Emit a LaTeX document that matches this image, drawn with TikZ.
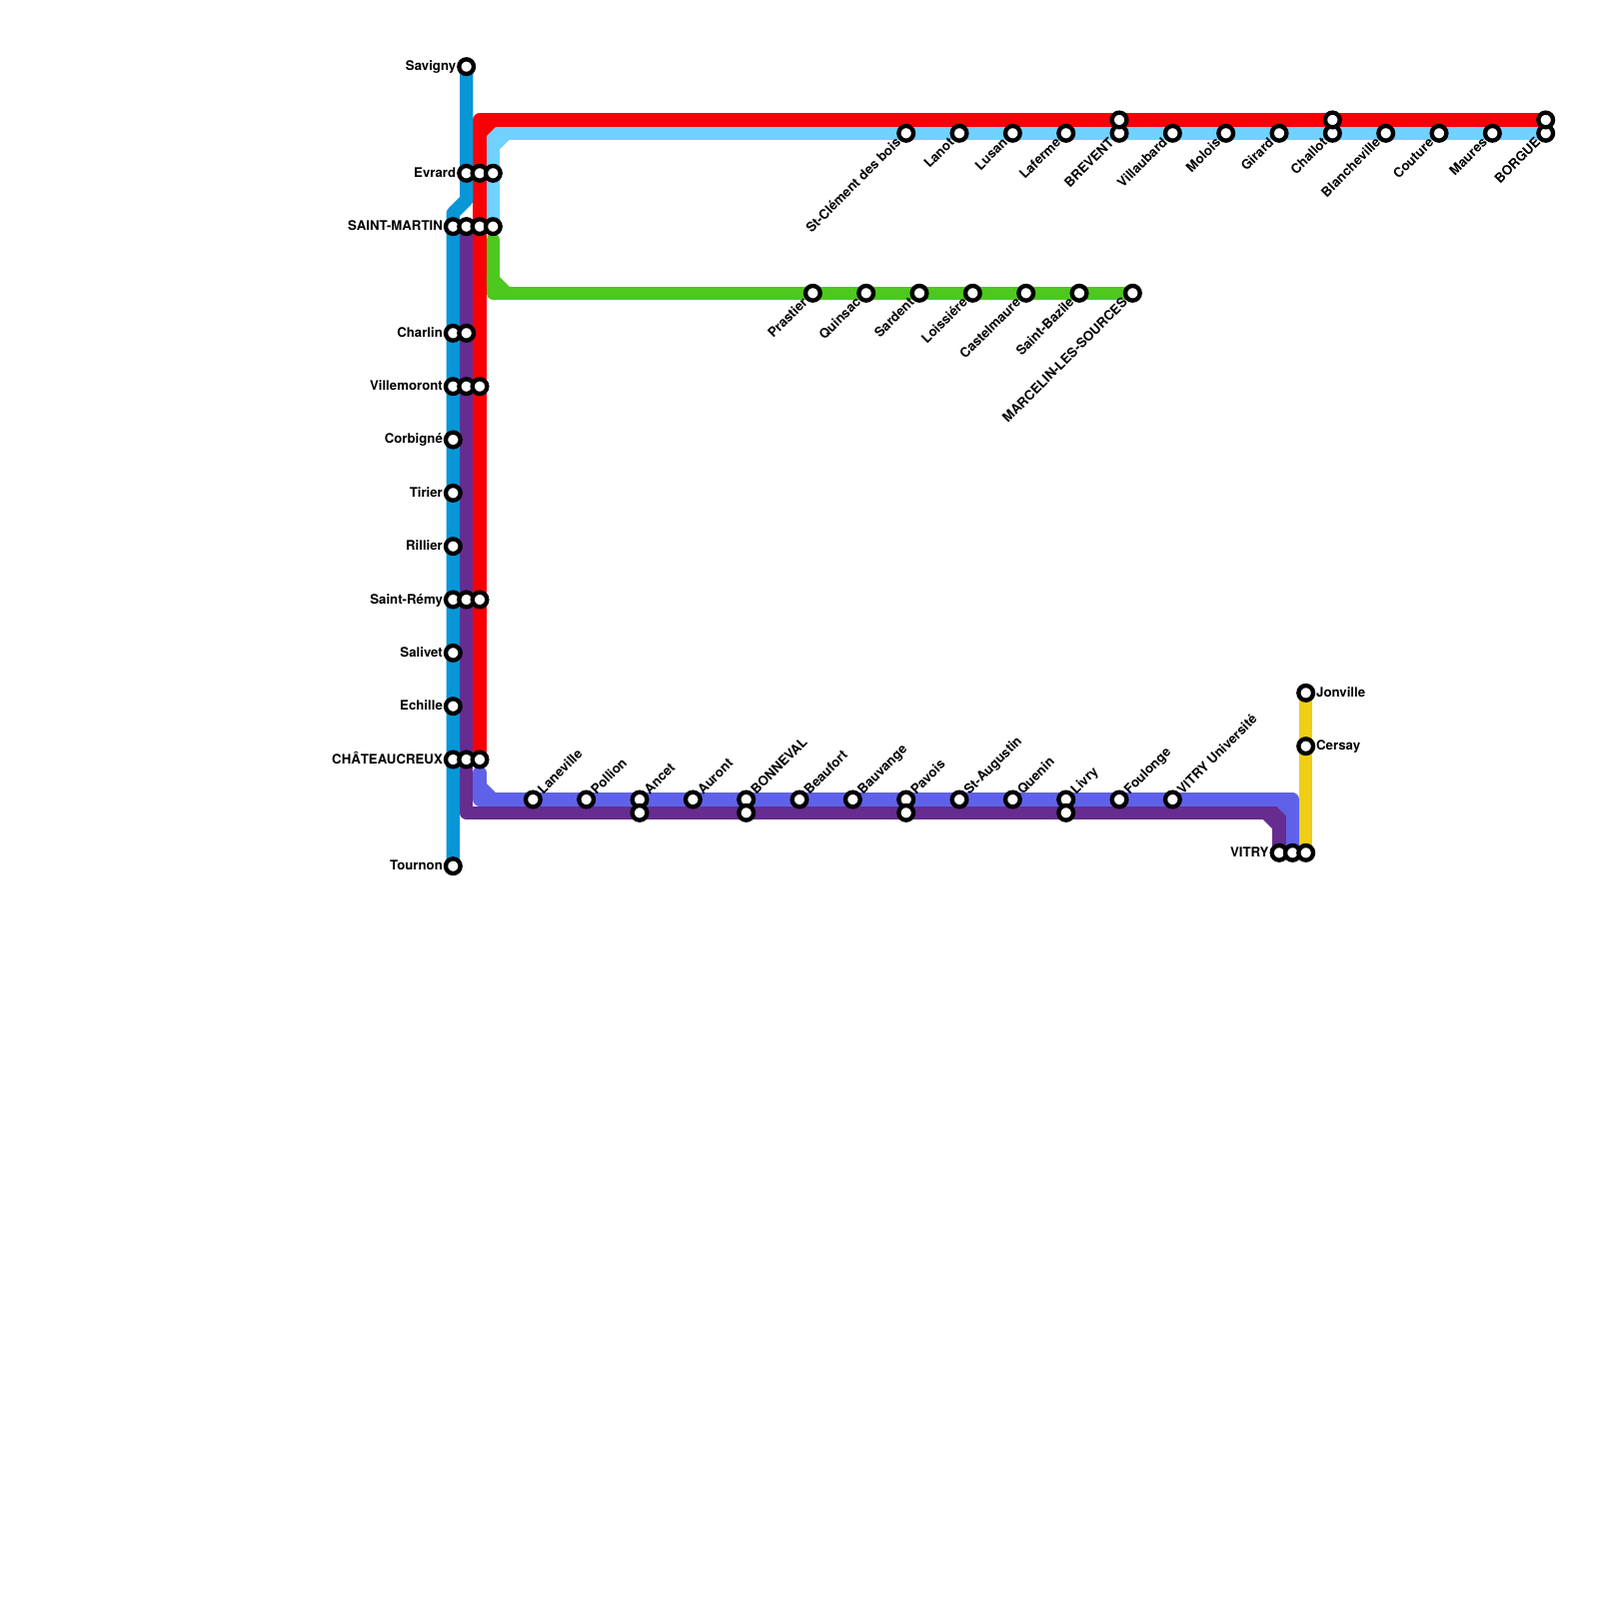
\documentclass[tikz,border=0pt]{standalone}
\usepackage{fontspec}
\setmainfont{TeX Gyre Heros}
\usepackage{xcolor}
\usetikzlibrary{backgrounds}
\definecolor{lblue}{HTML}{0896D7}
\definecolor{lpurple}{HTML}{662C90}
\definecolor{lred}{HTML}{F70006}
\definecolor{lcyan}{HTML}{71D1FF}
\definecolor{lgreen}{HTML}{4DC81E}
\definecolor{lslate}{HTML}{5F62E8}
\definecolor{lyellow}{HTML}{F0CE15}

\begin{document}
\begin{tikzpicture}[
  x=2mm, y=-2mm,
  font=\fontsize{5.65}{6.8}\selectfont\bfseries,
  st/.style={draw=black, fill=white, circle, line width=0.65mm, minimum size=2.2mm, inner sep=0pt},
  rel/.style={line width=2mm, line cap=round, line join=round},
  lw/.style={inner sep=0pt, anchor=base east, xshift=-1.5mm, yshift=-0.6mm},
  le/.style={inner sep=0pt, anchor=base west, xshift=1.5mm, yshift=-0.6mm},
  lsw/.style={inner sep=0pt, anchor=base east, rotate=45, xshift=-1.5mm, yshift=-0.6mm},
  lne/.style={inner sep=0pt, anchor=base west, rotate=45, xshift=1.5mm, yshift=-0.6mm}
]
\useasboundingbox (0,0) rectangle (120,120);

\node[st] (savigny) at (35,5) {};
\node[st] (evrard) at (35,13) {};
\node[st] (evrardb) at (36,13) {};
\node[st] (evrardc) at (37,13) {};
\node[st] (martin) at (34,17) {};
\node[st] (martinb) at (35,17) {};
\node[st] (martinc) at (36,17) {};
\node[st] (martind) at (37,17) {};
\node[st] (charlin) at (34,25) {};
\node[st] (charlinb) at (35,25) {};
\node[st] (villemoront) at (34,29) {};
\node[st] (villemorontb) at (35,29) {};
\node[st] (villemorontc) at (36,29) {};
\node[st] (corbigne) at (34,33) {};
\node[st] (tirier) at (34,37) {};
\node[st] (rillier) at (34,41) {};
\node[st] (remy) at (34,45) {};
\node[st] (remyb) at (35,45) {};
\node[st] (remyc) at (36,45) {};
\node[st] (salivet) at (34,49) {};
\node[st] (echille) at (34,53) {};
\node[st] (chateau) at (34,57) {};
\node[st] (chateaub) at (35,57) {};
\node[st] (chateauc) at (36,57) {};
\node[st] (tournon) at (34,65) {};

\node[st] (clement) at (68,10) {};
\node[st] (lanot) at (72,10) {};
\node[st] (lusan) at (76,10) {};
\node[st] (laferme) at (80,10) {};
\node[st] (brevent) at (84,10) {};
\node[st] (breventb) at (84,9) {};
\node[st] (villaubard) at (88,10) {};
\node[st] (molois) at (92,10) {};
\node[st] (girard) at (96,10) {};
\node[st] (challot) at (100,10) {};
\node[st] (challotb) at (100,9) {};
\node[st] (blanche) at (104,10) {};
\node[st] (couture) at (108,10) {};
\node[st] (maures) at (112,10) {};
\node[st] (borgue) at (116,10) {};
\node[st] (borgueb) at (116,9) {};

\node[st] (prastier) at (61,22) {};
\node[st] (quinsac) at (65,22) {};
\node[st] (sardent) at (69,22) {};
\node[st] (loissiere) at (73,22) {};
\node[st] (castel) at (77,22) {};
\node[st] (bazile) at (81,22) {};
\node[st] (marcelin) at (85,22) {};

\node[st] (laneville) at (40,60) {};
\node[st] (pollion) at (44,60) {};
\node[st] (ancet) at (48,60) {};
\node[st] (ancetb) at (48,61) {};
\node[st] (auront) at (52,60) {};
\node[st] (bonneval) at (56,60) {};
\node[st] (bonnevalb) at (56,61) {};
\node[st] (beaufort) at (60,60) {};
\node[st] (bauvange) at (64,60) {};
\node[st] (pavois) at (68,60) {};
\node[st] (pavoisb) at (68,61) {};
\node[st] (augustin) at (72,60) {};
\node[st] (quenin) at (76,60) {};
\node[st] (livry) at (80,60) {};
\node[st] (livryb) at (80,61) {};
\node[st] (foulonge) at (84,60) {};
\node[st] (univ) at (88,60) {};

\node[st] (vitry) at (96,64) {};
\node[st] (vitryb) at (97,64) {};
\node[st] (vitryc) at (98,64) {};
\node[st] (cersay) at (98,56) {};
\node[st] (jonville) at (98,52) {};

\coordinate (bluea) at (35,15);
\coordinate (blueb) at (34,16);
\coordinate (cyanc) at (37,10);
\coordinate (cyana) at (37,11);
\coordinate (cyanb) at (38,10);
\coordinate (redc) at (36,9);
\coordinate (reda) at (36,10);
\coordinate (redb) at (37,9);
\coordinate (greens) at (37,18);
\coordinate (greenc) at (37,22);
\coordinate (greena) at (37,21);
\coordinate (greenb) at (38,22);
\coordinate (slates) at (36,58);
\coordinate (slatec) at (36,60);
\coordinate (slatea) at (36,59);
\coordinate (slateb) at (37,60);
\coordinate (slated) at (97,60);
\coordinate (slatee) at (96,60);
\coordinate (slatef) at (97,61);
\coordinate (purplec) at (35,61);
\coordinate (purpled) at (96,61);
\coordinate (purplea) at (95,61);
\coordinate (purpleb) at (96,62);

\begin{scope}[on background layer]
\draw[rel, lcyan] (martind.center) -- (cyanc) -- (borgue.center);
\draw[rel, lcyan] (cyana) -- (cyanb);
\draw[rel, lred] (chateauc.center) -- (redc) -- (borgueb.center);
\draw[rel, lred] (reda) -- (redb);
\draw[rel, lgreen] (greens) -- (greenc) -- (marcelin.center);
\draw[rel, lgreen] (greena) -- (greenb);
\draw[rel, lpurple] (martinb.center) -- (purplec) -- (purpled) -- (vitry.center);
\draw[rel, lpurple] (purplea) -- (purpleb);
\draw[rel, lslate] (slates) -- (slatec) -- (slated) -- (vitryb.center);
\draw[rel, lslate] (slatea) -- (slateb);
\draw[rel, lslate] (slatee) -- (slatef);
\draw[rel, lblue] (savigny.center) -- (bluea) -- (blueb) -- (tournon.center);
\draw[rel, lyellow] (jonville.center) -- (vitryc.center);
\end{scope}

\node[lw] (tsavigny) at (savigny) {Savigny};
\node[lw] (tevrard) at (evrard) {Evrard};
\node[lw] (tmartin) at (martin) {SAINT-MARTIN};
\node[lw] (tcharlin) at (charlin) {Charlin};
\node[lw] (tvillemoront) at (villemoront) {Villemoront};
\node[lw] (tcorbigne) at (corbigne) {Corbigné};
\node[lw] (ttirier) at (tirier) {Tirier};
\node[lw] (trillier) at (rillier) {Rillier};
\node[lw] (tremy) at (remy) {Saint-Rémy};
\node[lw] (tsalivet) at (salivet) {Salivet};
\node[lw] (techille) at (echille) {Echille};
\node[lw] (tchateau) at (chateau) {CHÂTEAUCREUX};
\node[lw] (ttournon) at (tournon) {Tournon};
\node[lw] (tvitry) at (vitry) {VITRY};
\node[le] (tjonville) at (jonville) {Jonville};
\node[le] (tcersay) at (cersay) {Cersay};

\node[lsw] (tclement) at (clement) {St-Clément des bois};
\node[lsw] (tlanot) at (lanot) {Lanot};
\node[lsw] (tlusan) at (lusan) {Lusan};
\node[lsw] (tlaferme) at (laferme) {Laferme};
\node[lsw] (tbrevent) at (brevent) {BREVENT};
\node[lsw] (tvillaubard) at (villaubard) {Villaubard};
\node[lsw] (tmolois) at (molois) {Molois};
\node[lsw] (tgirard) at (girard) {Girard};
\node[lsw] (tchallot) at (challot) {Challot};
\node[lsw] (tblanche) at (blanche) {Blancheville};
\node[lsw] (tcouture) at (couture) {Couture};
\node[lsw] (tmaures) at (maures) {Maures};
\node[lsw] (tborgue) at (borgue) {BORGUE};

\node[lsw] (tprastier) at (prastier) {Prastier};
\node[lsw] (tquinsac) at (quinsac) {Quinsac};
\node[lsw] (tsardent) at (sardent) {Sardent};
\node[lsw] (tloissiere) at (loissiere) {Loissiére};
\node[lsw] (tcastel) at (castel) {Castelmaure};
\node[lsw] (tbazile) at (bazile) {Saint-Bazile};
\node[lsw] (tmarcelin) at (marcelin) {MARCELIN-LES-SOURCES};

\node[lne] (tlaneville) at (laneville) {Laneville};
\node[lne] (tpollion) at (pollion) {Pollion};
\node[lne] (tancet) at (ancet) {Ancet};
\node[lne] (tauront) at (auront) {Auront};
\node[lne] (tbonneval) at (bonneval) {BONNEVAL};
\node[lne] (tbeaufort) at (beaufort) {Beaufort};
\node[lne] (tbauvange) at (bauvange) {Bauvange};
\node[lne] (tpavois) at (pavois) {Pavois};
\node[lne] (taugustin) at (augustin) {St-Augustin};
\node[lne] (tquenin) at (quenin) {Quenin};
\node[lne] (tlivry) at (livry) {Livry};
\node[lne] (tfoulonge) at (foulonge) {Foulonge};
\node[lne] (tuniv) at (univ) {VITRY Université};
\end{tikzpicture}
\end{document}
